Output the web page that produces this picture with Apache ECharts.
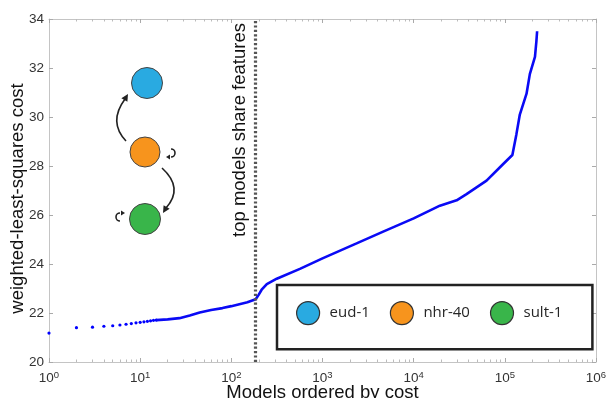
<!DOCTYPE html>
<html>
<head>
<meta charset="utf-8">
<script src="https://cdn.jsdelivr.net/npm/echarts@6/dist/echarts.min.js"></script>
<style>
  html, body { margin: 0; padding: 0; background: #fff; }
  #chart { width: 608px; height: 398px; }
</style>
</head>
<body>
<div id="chart"></div>
<script>
// first ranks are drawn as separate dots
const dotRank = [1, 2, 3, 4, 5, 6, 7, 8, 9, 10, 11, 12, 13, 14, 15];
const dotCost = [21.18, 21.40, 21.42, 21.46, 21.48, 21.51, 21.54, 21.57, 21.60, 21.62, 21.64, 21.66, 21.68, 21.70, 21.71];

// the rest merge into a line
const lineRank = [15, 20, 27, 35, 45, 60, 80, 100, 150, 185, 200, 215, 245, 315, 565, 1000, 2365, 4630,
  10000, 19400, 29600, 38000, 63000, 96000, 121000, 134000, 146000, 173000, 188000, 214000, 222000, 226000];
const lineCost = [21.71, 21.74, 21.79, 21.90, 22.02, 22.12, 22.20, 22.28, 22.44, 22.56, 22.75, 22.95, 23.18, 23.40, 23.80, 24.23, 24.84, 25.32,
  25.86, 26.38, 26.60, 26.85, 27.40, 28.08, 28.45, 29.30, 30.10, 30.95, 31.75, 32.45, 33.10, 33.50];

const cutoffRank = 185;
const genes = ['eud-1', 'nhr-40', 'sult-1'];
const geneColors = ['#29aae1', '#f7941d', '#39b54a'];
const yTicks = [20, 22, 24, 26, 28, 30, 32, 34];
const minorX = [];
for (let e = 0; e < 6; e++) for (let k = 2; k <= 9; k++) minorX.push(k * Math.pow(10, e));

const axisGrey = '#c4c4c4';
const font = 'Liberation Sans';

const chart = echarts.init(document.getElementById('chart'));

// little arrow head at (x,y) pointing along (dx,dy)
function head(x, y, dx, dy, len, wid) {
  const n = Math.hypot(dx, dy);
  dx /= n; dy /= n;
  const bx = x - dx * len, by = y - dy * len;
  return {
    type: 'polygon',
    shape: { points: [[x, y], [bx - dy * wid, by + dx * wid], [bx + dy * wid, by - dx * wid]] },
    style: { fill: '#222' }
  };
}
const stroke = { stroke: '#222', lineWidth: 1.6, fill: null };

const diagram = [
  // arrows
  { type: 'bezierCurve', shape: { x1: 126, y1: 141, x2: 125, y2: 99, cpx1: 108, cpy1: 122 }, style: stroke },
  head(128, 94, 3, -5, 7, 3.5),
  { type: 'bezierCurve', shape: { x1: 162, y1: 168, x2: 166, y2: 208, cpx1: 184, cpy1: 188 }, style: stroke },
  head(163, 213, -3, 5, 7, 3.5),
  { type: 'arc', shape: { cx: 171, cy: 153, r: 4, startAngle: -Math.PI / 2, endAngle: Math.PI / 2, clockwise: true }, style: stroke },
  head(166, 157, -1, 0, 4, 2.5),
  { type: 'arc', shape: { cx: 120, cy: 217, r: 4, startAngle: Math.PI / 2, endAngle: -Math.PI / 2, clockwise: true }, style: stroke },
  head(125, 213, 1, 0, 4, 2.5),
  // nodes
  { type: 'circle', shape: { cx: 147, cy: 83, r: 15.5 }, style: { fill: geneColors[0], stroke: '#444', lineWidth: 1 } },
  { type: 'circle', shape: { cx: 145, cy: 152, r: 15 }, style: { fill: geneColors[1], stroke: '#444', lineWidth: 1 } },
  { type: 'circle', shape: { cx: 145, cy: 219, r: 15.5 }, style: { fill: geneColors[2], stroke: '#444', lineWidth: 1 } },
  // label of the cut-off line
  {
    type: 'text', x: 240, y: 130, rotation: Math.PI / 2,
    style: { text: 'top models share features', font: '18.5px "Liberation Sans"', fill: '#111', align: 'center', verticalAlign: 'middle' }
  }
];

const option = {
  animation: false,
  backgroundColor: '#fff',
  grid: { left: 49, right: 12, top: 19, bottom: 36, outerBoundsMode: 'none', containLabel: false },
  legend: {
    data: genes,
    left: 277, top: 285,
    padding: [16, 30, 24, 19],
    itemGap: 20,
    itemWidth: 23, itemHeight: 23,
    icon: 'circle',
    borderColor: '#222', borderWidth: 2.5,
    itemStyle: { borderColor: '#333', borderWidth: 1.2, opacity: 1 },
    textStyle: { fontSize: 15, color: '#262626', fontFamily: 'Open Sans', padding: [0, 0, 0, 5] }
  },
  xAxis: [
    {
      type: 'log', logBase: 10, min: 1, max: 1e6,
      name: 'Models ordered by cost', nameLocation: 'middle', nameGap: 21, nameMoveOverlap: false,
      nameTextStyle: { fontSize: 18.5, color: '#111', fontFamily: font, verticalAlign: 'top' },
      axisLine: { lineStyle: { color: axisGrey } },
      axisTick: { inside: true, length: 4, lineStyle: { color: '#aaa' } },
      splitLine: { show: false },
      axisLabel: {
        margin: 8, color: '#333',
        formatter: v => '{b|10}{s|' + Math.round(Math.log10(v)) + '}',
        rich: {
          b: { fontSize: 13.5, fontFamily: font, color: '#333', lineHeight: 16 },
          s: { fontSize: 9.5, fontFamily: font, color: '#333', verticalAlign: 'top', lineHeight: 9 }
        }
      }
    },
    {
      type: 'log', logBase: 10, min: 1, max: 1e6, position: 'bottom',
      axisLine: { show: false }, axisLabel: { show: false }, splitLine: { show: false },
      axisTick: { inside: true, length: 2.5, customValues: minorX, lineStyle: { color: '#bbb' } }
    },
    {
      type: 'log', logBase: 10, min: 1, max: 1e6, position: 'top',
      axisLine: { lineStyle: { color: axisGrey } }, axisLabel: { show: false }, splitLine: { show: false },
      axisTick: { inside: true, length: 4, lineStyle: { color: '#aaa' } }
    },
    {
      type: 'log', logBase: 10, min: 1, max: 1e6, position: 'top',
      axisLine: { show: false }, axisLabel: { show: false }, splitLine: { show: false },
      axisTick: { inside: true, length: 2.5, customValues: minorX, lineStyle: { color: '#bbb' } }
    }
  ],
  yAxis: [
    {
      type: 'value', min: 20, max: 34, interval: 2,
      name: 'weighted-least-squares cost', nameLocation: 'middle', nameGap: 22, nameMoveOverlap: false,
      nameTextStyle: { fontSize: 18.5, color: '#111', fontFamily: font, padding: [0, 16, 0, 0] },
      axisLine: { show: true, lineStyle: { color: axisGrey } },
      axisTick: { show: true, inside: true, length: 4, lineStyle: { color: '#aaa' } },
      splitLine: { show: false },
      axisLabel: { margin: 5, fontSize: 13.5, color: '#333', fontFamily: font, customValues: yTicks }
    },
    {
      type: 'value', min: 20, max: 34, interval: 2, position: 'right',
      axisLine: { show: true, lineStyle: { color: axisGrey } },
      axisTick: { show: true, inside: true, length: 4, lineStyle: { color: '#aaa' } },
      splitLine: { show: false },
      axisLabel: { show: false }
    }
  ],
  series: [
    {
      type: 'scatter', name: 'first models', symbolSize: 3.2,
      itemStyle: { color: '#0000ff', opacity: 1 },
      data: dotRank.map((r, i) => [r, dotCost[i]])
    },
    {
      type: 'line', name: 'models', showSymbol: false,
      lineStyle: { color: '#0a0af5', width: 2.6 },
      data: lineRank.map((r, i) => [r, lineCost[i]]),
      markLine: {
        silent: true, symbol: 'none',
        label: { show: false },
        lineStyle: { color: '#555', width: 3.2, type: [2.2, 2.2] },
        data: [{ xAxis: cutoffRank }]
      }
    },
    ...genes.map((g, i) => ({ type: 'scatter', name: g, data: [], itemStyle: { color: geneColors[i], opacity: 1 } }))
  ],
  graphic: diagram
};

chart.setOption(option);
</script>
</body>
</html>
